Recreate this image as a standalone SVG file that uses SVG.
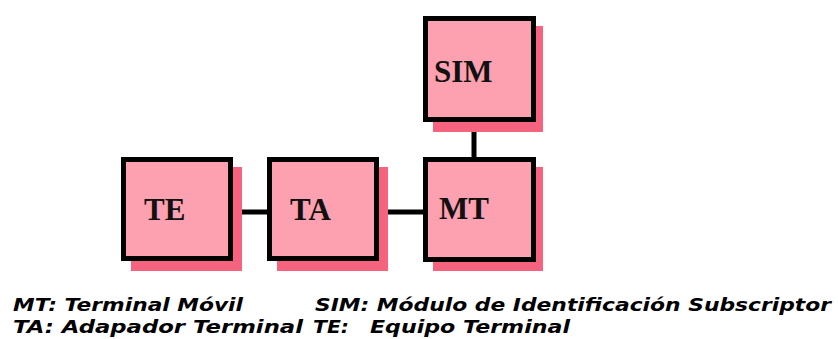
<svg xmlns="http://www.w3.org/2000/svg" width="838" height="339" viewBox="0 0 838 339">
  <defs>
    <style>
      .shadow { fill: #f5637e; }
      .box { fill: #fda0b0; stroke: #000; stroke-width: 5; }
      .label { font-family: "Liberation Serif", "Times New Roman", serif; font-weight: bold; font-size: 31px; fill: #111; }
      .link { stroke: #000; stroke-width: 5; fill: none; }
      .legend { font-family: "DejaVu Sans", Verdana, sans-serif; font-weight: bold; font-style: italic; font-size: 18px; fill: #000; }
    </style>
  </defs>
  <rect width="838" height="339" fill="#fff"/>

  <!-- connectors -->
  <g id="connectors">
    <line class="link" x1="233" y1="212" x2="267" y2="212"/>
    <line class="link" x1="379" y1="212" x2="423" y2="212"/>
    <line class="link" x1="474" y1="122" x2="474" y2="157"/>
  </g>

  <!-- nodes -->
  <g id="node-te">
    <rect class="shadow" x="131" y="167" width="111" height="104"/>
    <rect class="box" x="123.5" y="159.5" width="107" height="99"/>
    <text class="label" x="144" y="220">TE</text>
  </g>
  <g id="node-ta">
    <rect class="shadow" x="277" y="167" width="111" height="104"/>
    <rect class="box" x="269.5" y="159.5" width="107" height="99"/>
    <text class="label" x="290" y="220">TA</text>
  </g>
  <g id="node-mt">
    <rect class="shadow" x="433" y="167" width="110" height="104"/>
    <rect class="box" x="425.5" y="159.5" width="108" height="100"/>
    <text class="label" x="439" y="219">MT</text>
  </g>
  <g id="node-sim">
    <rect class="shadow" x="433" y="26" width="110" height="106"/>
    <rect class="box" x="425.5" y="18.5" width="108" height="101"/>
    <text class="label" x="434" y="82">SIM</text>
  </g>

  <!-- legend -->
  <g id="legend">
    <text class="legend" x="13" y="311" textLength="230" lengthAdjust="spacingAndGlyphs">MT: Terminal Móvil</text>
    <text class="legend" x="315" y="311" textLength="516" lengthAdjust="spacingAndGlyphs">SIM: Módulo de Identificación Subscriptor</text>
    <text class="legend" x="13" y="333" textLength="290" lengthAdjust="spacingAndGlyphs">TA: Adapador Terminal</text>
    <text class="legend" x="313" y="333" textLength="36" lengthAdjust="spacingAndGlyphs">TE:</text>
    <text class="legend" x="370" y="333" textLength="200" lengthAdjust="spacingAndGlyphs">Equipo Terminal</text>
  </g>
</svg>
